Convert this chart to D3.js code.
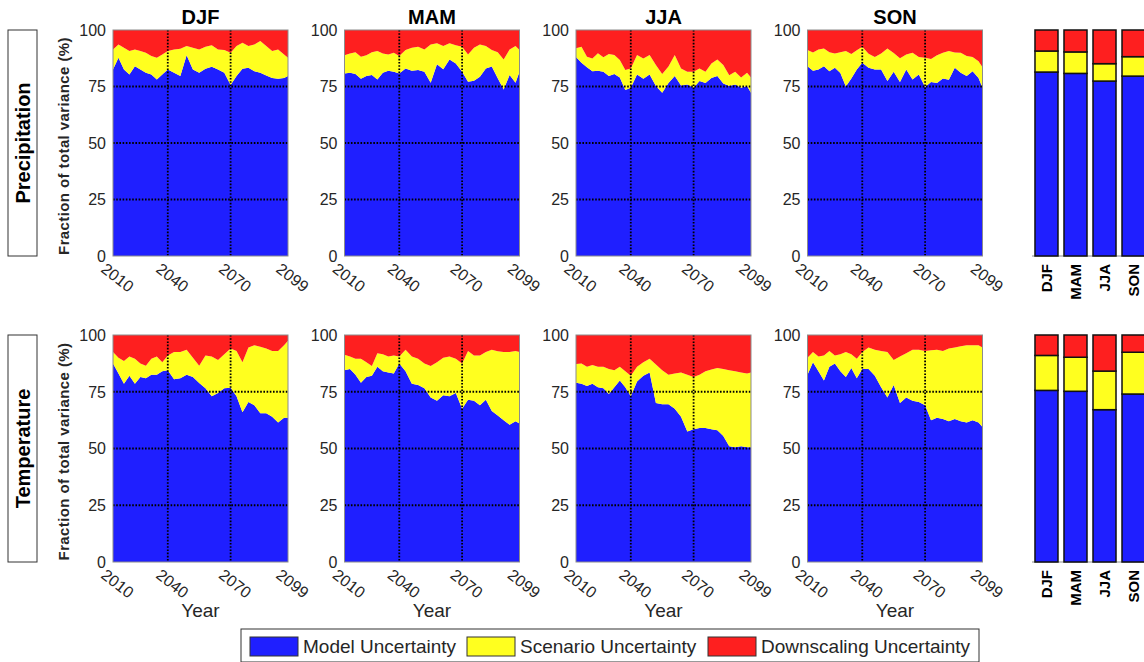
<!DOCTYPE html>
<html>
<head>
<meta charset="utf-8">
<script src="https://cdn.jsdelivr.net/npm/d3@7"></script>
<style>
  body { margin: 0; background: #fff; }
  svg { display: block; font-family: "Liberation Sans", Arial, sans-serif; }
</style>
</head>
<body>
<svg id="chart"></svg>
<script>
// Categories and ticks
let seasons = ["DJF", "MAM", "JJA", "SON"];
let variables = ["Precipitation", "Temperature"];
let components = ["Model Uncertainty", "Scenario Uncertainty", "Downscaling Uncertainty"];
let yearTicks = [2010, 2040, 2070, 2099];
let pctTicks = [0, 25, 50, 75, 100];
let years = [2010, 2013, 2016, 2019, 2022, 2025, 2028, 2031, 2034, 2037, 2040,
  2043, 2046, 2049, 2052, 2055, 2058, 2061, 2064, 2067, 2070,
  2073, 2076, 2079, 2082, 2085, 2088, 2091, 2094, 2097, 2099];

// Precipitation: model share and downscaling share (%), scenario is the rest
let prModelDJF = [82.5, 87.7, 82.5, 80.3, 84, 82.5, 81.1, 80.3, 78.1, 80.3, 82.5, 81.1, 79.6, 88.8, 82.5, 81.1, 82.8, 83.7, 82.5, 81.1, 75.7, 79.6, 82.8, 83.3, 81.8, 81.1, 79.9, 78.8, 78.4, 78.8, 79.6];
let prDownDJF = [8.6, 6.4, 7.8, 9.3, 8.6, 9.3, 10.1, 11.5, 12.3, 10.8, 9.3, 8.6, 8.3, 7.1, 7.8, 8.6, 7.4, 6.8, 8.6, 8.9, 10.1, 7.1, 5.6, 7.1, 6.4, 4.9, 7.1, 9.3, 8.6, 10.8, 12.3];
let prModelMAM = [80.8, 81.1, 80.5, 78.4, 79.6, 80.1, 78.1, 81.1, 82, 81.5, 80.8, 83, 82, 82.3, 81.5, 76.7, 84.9, 82.6, 87, 85.2, 81.5, 77.1, 77.5, 79.3, 83, 83.8, 78.6, 73.7, 80.1, 76.7, 81.5];
let prDownMAM = [11.2, 10.4, 9.8, 11.8, 11.2, 9.8, 9.3, 10.4, 10.8, 10.1, 11.5, 8.9, 7.8, 7.4, 8.6, 6.4, 5.9, 7.1, 5.9, 6.8, 7.4, 10.8, 7.8, 6.4, 7.1, 8.9, 9.8, 13, 8.6, 7.1, 8.9];
let prModelJJA = [88, 85.5, 83.5, 81.8, 82, 81.5, 79.6, 80.5, 79, 73.5, 74.4, 80.3, 78.4, 80.3, 75.2, 72.2, 76.6, 79.6, 75.4, 75.9, 74.4, 77.4, 76.6, 78.8, 79.6, 76.3, 75.2, 75.9, 74.4, 75.2, 72.2];
let prDownJJA = [8.1, 7.4, 11.8, 12.6, 10.3, 12.1, 10.6, 11.1, 13.3, 17.7, 17, 11.1, 12.6, 11.1, 15.5, 19.5, 16.2, 11.1, 17, 18.5, 18.5, 17, 18.5, 14.8, 13, 15.5, 20, 18.5, 21, 18.9, 21];
let prModelSON = [84, 82, 82.5, 84, 81.8, 83.3, 81, 75, 78.5, 82.5, 85.5, 83.3, 82.5, 82.5, 77.4, 81.5, 77, 82.5, 78.1, 80.3, 74.8, 77, 76.5, 78.5, 78, 83.3, 81.1, 79.6, 81.8, 78.8, 74.4];
let prDownSON = [8.9, 10, 8.6, 8.2, 9.8, 10.4, 9.8, 9.3, 10.6, 9, 7.4, 10.5, 12, 10.4, 8.2, 10.2, 12.5, 10.8, 10.1, 12, 12.3, 12.8, 11.2, 10.1, 9.3, 10, 10.1, 11.5, 12, 13.8, 16.5];

// Temperature
let tasModelDJF = [87.5, 83, 78.5, 82, 78.5, 81.5, 81, 82.5, 82.5, 84, 84.5, 80.5, 81, 82.5, 81.5, 78.8, 76.5, 73, 74.5, 76.5, 76.8, 73, 66, 70.5, 69, 65.5, 65.5, 64, 61.5, 63.5, 63.5];
let tasDownDJF = [7.5, 10, 11.5, 9.5, 10.5, 12.5, 13.5, 10.5, 9.5, 12, 9, 7.5, 7.5, 6.5, 10, 13.5, 9, 9.5, 11, 8.5, 6, 7, 12, 5.5, 4.5, 5.2, 6, 7, 7, 4.5, 2.5];
let tasModelMAM = [84.5, 85, 82.5, 79, 81.5, 82, 86, 84, 83.5, 83, 87.5, 84, 78.5, 78, 76.5, 72.5, 71, 73.5, 73, 74.5, 67.5, 71.5, 71, 69, 71.5, 66.5, 64.5, 62.5, 60.5, 62, 61];
let tasDownMAM = [8.7, 9.5, 10.5, 10.5, 12, 13.7, 8, 8.5, 9.5, 9, 9.5, 6.5, 9.5, 10.5, 12.5, 13.7, 12, 10, 9.5, 10.5, 12.5, 7, 9, 9, 7.5, 6.5, 7.2, 7.5, 7.5, 7, 7.5];
let tasModelJJA = [79, 78.5, 77.5, 78.5, 77, 76.5, 74, 77, 80, 77, 73, 79.5, 82, 83.5, 70, 69.5, 69.5, 67.5, 64, 57.5, 58.5, 59, 59, 58.5, 58, 55.5, 51, 50.5, 51, 50.5, 50.5];
let tasDownJJA = [12.8, 12.5, 14, 13.2, 14, 14, 15, 15.5, 14, 16, 18, 14, 12, 10.5, 13, 15.5, 17.5, 17, 16.5, 17.5, 18.5, 17.5, 16, 15.2, 14.5, 15, 15.5, 16, 16.5, 17, 16.5];
let tasModelSON = [82.5, 88, 84, 80, 86, 87.5, 84, 81.5, 85.5, 81, 85, 85, 82, 77, 72.5, 78, 70, 72.5, 71, 70.5, 69, 62.5, 63.5, 63, 62, 63, 62, 61.5, 62.5, 61.5, 59.5];
let tasDownSON = [10, 7.5, 9.5, 9, 7, 9, 8.5, 7.5, 8.5, 10.5, 7.5, 5.5, 6.5, 7, 7.5, 11, 9.5, 8, 6.5, 6.5, 7, 6.7, 6.5, 7, 6, 5.5, 5, 4.5, 4.5, 4.5, 5.5];

// Whole-period fractions per season (bars)
let prBarModel = [81.4, 80.8, 77.4, 79.6];
let prBarDown = [9.3, 9.7, 14.9, 11.8];
let tasBarModel = [75.6, 75.2, 67.1, 74.0];
let tasBarDown = [9.0, 9.8, 15.9, 7.6];

let modelSeries = [[prModelDJF, prModelMAM, prModelJJA, prModelSON], [tasModelDJF, tasModelMAM, tasModelJJA, tasModelSON]];
let downSeries = [[prDownDJF, prDownMAM, prDownJJA, prDownSON], [tasDownDJF, tasDownMAM, tasDownJJA, tasDownSON]];
let barModel = [prBarModel, tasBarModel];
let barDown = [prBarDown, tasBarDown];

// Layout
let svgWidth = 1144;
let svgHeight = 662;
let colors = ["#1f1fff", "#ffff1f", "#fe1f1f"];
let keys = ["model", "scenario", "downscaling"];
let panelLeft = [113, 344.5, 576, 807.5];
let panelWidth = 175;
let rows = [{ top: 30, bottom: 256 }, { top: 335, bottom: 562 }];
let textColor = "#262626";

let svg = d3.select("#chart")
  .attr("width", svgWidth)
  .attr("height", svgHeight);

svg.append("rect").attr("width", svgWidth).attr("height", svgHeight).attr("fill", "#fff");

let stack = d3.stack().keys(keys);

function toTable(model, down) {
  return model.map((m, i) => ({ year: years[i], model: m, downscaling: down[i], scenario: 100 - m - down[i] }));
}

variables.forEach(function(variable, r) {
  let row = rows[r];
  let y = d3.scaleLinear().domain([0, 100]).range([row.bottom, row.top]);

  // row label box
  svg.append("rect")
    .attr("x", 8).attr("y", row.top)
    .attr("width", 29).attr("height", row.bottom - row.top)
    .attr("fill", "#fff").attr("stroke", "#333").attr("stroke-width", 1);
  svg.append("text")
    .attr("transform", `translate(23, ${(row.top + row.bottom) / 2}) rotate(-90)`)
    .attr("text-anchor", "middle").attr("dy", "0.36em")
    .attr("font-size", 20).attr("font-weight", "bold")
    .text(variable);

  // y-axis title
  svg.append("text")
    .attr("transform", `translate(64, ${(row.top + row.bottom) / 2 + 3}) rotate(-90)`)
    .attr("text-anchor", "middle").attr("dy", "0.36em")
    .attr("font-size", 15).attr("font-weight", "bold").attr("fill", textColor)
    .attr("letter-spacing", 0.4)
    .text("Fraction of total variance (%)");

  seasons.forEach(function(season, c) {
    let x0 = panelLeft[c];
    let x = d3.scaleLinear()
      .domain(yearTicks)
      .range([x0, x0 + 0.313 * panelWidth, x0 + 0.672 * panelWidth, x0 + panelWidth]);

    let layers = stack(toTable(modelSeries[r][c], downSeries[r][c]));
    let area = d3.area()
      .x(d => x(d.data.year))
      .y0(d => y(d[0]))
      .y1(d => y(d[1]));

    let g = svg.append("g");
    g.selectAll("path.layer")
      .data(layers)
      .join("path")
      .attr("class", "layer")
      .attr("fill", (d, i) => colors[i])
      .attr("d", area);

    // dotted grid
    g.selectAll("line.hgrid")
      .data([25, 50, 75])
      .join("line")
      .attr("x1", x0).attr("x2", x0 + panelWidth)
      .attr("y1", d => y(d)).attr("y2", d => y(d))
      .attr("stroke", "#000").attr("stroke-width", 1.8).attr("stroke-dasharray", "1.6,1.6");
    g.selectAll("line.vgrid")
      .data([2040, 2070])
      .join("line")
      .attr("x1", d => x(d)).attr("x2", d => x(d))
      .attr("y1", row.top).attr("y2", row.bottom)
      .attr("stroke", "#000").attr("stroke-width", 1.8).attr("stroke-dasharray", "1.6,1.6");

    g.append("rect")
      .attr("x", x0).attr("y", row.top)
      .attr("width", panelWidth).attr("height", row.bottom - row.top)
      .attr("fill", "none").attr("stroke", "#8c8c8c").attr("stroke-width", 1);

    // y tick labels
    g.selectAll("text.ytick")
      .data(pctTicks)
      .join("text")
      .attr("x", x0 - 7).attr("y", d => y(d))
      .attr("dy", "0.36em").attr("text-anchor", "end")
      .attr("font-size", 16).attr("fill", textColor)
      .text(d => d);

    // x tick labels, rotated
    g.selectAll("text.xtick")
      .data(yearTicks)
      .join("text")
      .attr("transform", d => `translate(${x(d) - 5}, ${row.bottom + 5}) rotate(38)`)
      .attr("dy", "0.8em")
      .attr("font-size", 16).attr("fill", textColor)
      .text(d => d);

    if (r === 0) {
      g.append("text")
        .attr("x", x0 + panelWidth / 2).attr("y", 24)
        .attr("text-anchor", "middle")
        .attr("font-size", 20).attr("font-weight", "bold")
        .text(season);
    } else {
      g.append("text")
        .attr("x", x0 + panelWidth / 2).attr("y", 617)
        .attr("text-anchor", "middle")
        .attr("font-size", 19).attr("fill", textColor)
        .text("Year");
    }
  });

  // seasonal bars
  let xb = d3.scaleBand()
    .domain(seasons)
    .range([1032, 1148])
    .paddingInner(0.207)
    .paddingOuter(0.103);
  let barRows = seasons.map((s, i) => ({
    season: s,
    model: barModel[r][i],
    downscaling: barDown[r][i],
    scenario: 100 - barModel[r][i] - barDown[r][i]
  }));
  let barLayers = stack(barRows);

  svg.append("line")
    .attr("x1", 1032).attr("x2", svgWidth)
    .attr("y1", row.bottom).attr("y2", row.bottom)
    .attr("stroke", "#8c8c8c").attr("stroke-width", 1);

  svg.append("g").selectAll("g")
    .data(barLayers)
    .join("g")
    .attr("fill", (d, i) => colors[i])
    .selectAll("rect")
    .data(d => d)
    .join("rect")
    .attr("x", d => xb(d.data.season))
    .attr("y", d => y(d[1]))
    .attr("width", xb.bandwidth())
    .attr("height", d => y(d[0]) - y(d[1]))
    .attr("stroke", "#111").attr("stroke-width", 1.5);

  svg.append("g").selectAll("text")
    .data(seasons)
    .join("text")
    .attr("transform", d => `translate(${xb(d) + xb.bandwidth() / 2}, ${row.bottom + 8}) rotate(-90)`)
    .attr("text-anchor", "end").attr("dy", "0.36em")
    .attr("font-size", 15).attr("font-weight", "bold")
    .text(d => d);
});

// legend
let legend = svg.append("g");
legend.append("rect")
  .attr("x", 241).attr("y", 629)
  .attr("width", 738).attr("height", 33)
  .attr("fill", "#fff").attr("stroke", "#333").attr("stroke-width", 1);
let legendX = [250, 467, 708];
let items = legend.selectAll("g.item")
  .data(components)
  .join("g")
  .attr("transform", (d, i) => `translate(${legendX[i]}, 637)`);
items.append("rect")
  .attr("width", 48).attr("height", 19)
  .attr("fill", (d, i) => colors[i])
  .attr("stroke", "#333").attr("stroke-width", 1);
items.append("text")
  .attr("x", 53).attr("y", 16)
  .attr("font-size", 19).attr("fill", textColor)
  .text(d => d);
</script>
</body>
</html>
